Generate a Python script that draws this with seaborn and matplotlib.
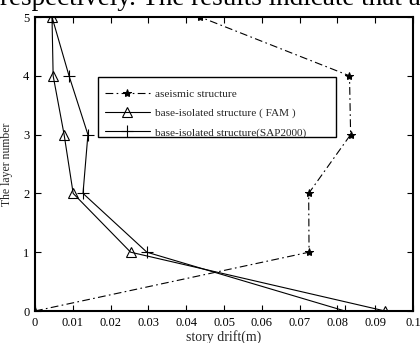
import matplotlib
matplotlib.use("Agg")
import matplotlib.pyplot as plt
from matplotlib.patches import Rectangle
import seaborn as sns
import pandas as pd

layers = [0, 1, 2, 3, 4, 5]
aseismic = [0.0, 0.0725, 0.0724, 0.0835, 0.0832, 0.0437]
fam = [0.0926, 0.0253, 0.0101, 0.0077, 0.0048, 0.0045]
sap = [0.0820, 0.0296, 0.0127, 0.0140, 0.0090, 0.0045]
labels = ["aseismic structure", "base-isolated structure ( FAM )",
          "base-isolated structure(SAP2000)"]
xticks = [0, 0.01, 0.02, 0.03, 0.04, 0.05, 0.06, 0.07, 0.08, 0.09, 0.1]
xticklabels = ["0", "0.01", "0.02", "0.03", "0.04", "0.05", "0.06", "0.07", "0.08", "0.09", "0.1"]

sns.set_style("ticks")
plt.rcParams["font.family"] = ["Liberation Serif", "DejaVu Serif"]

fig = plt.figure(figsize=(4.2, 3.43), dpi=100)
ax = fig.add_axes([35/420, 1 - 311/343, 378/420, 294/343])

df = pd.DataFrame({"layer": layers, "a": aseismic, "f": fam, "s": sap})
sns.lineplot(data=df, x="a", y="layer", sort=False, ax=ax, color="black",
             linewidth=0.8, marker="*", markersize=6,
             markeredgecolor="black", label=labels[0])
ax.lines[-1].set_linestyle((0, (7, 3, 1.5, 3)))
sns.lineplot(data=df, x="f", y="layer", sort=False, ax=ax, color="black",
             linewidth=0.8, marker="^", markersize=7, markerfacecolor="none",
             markeredgecolor="black", markeredgewidth=0.8, label=labels[1])
sns.lineplot(data=df, x="s", y="layer", sort=False, ax=ax, color="black",
             linewidth=0.8, marker="+", markersize=8, markeredgewidth=0.8,
             markeredgecolor="black", label=labels[2])

ax.set_xlim(0, 0.1)
ax.set_ylim(0, 5)
ax.set_xticks(xticks)
ax.set_xticklabels(xticklabels)
ax.set_yticks(layers)
ax.tick_params(direction="in", top=True, right=True, labelsize=9,
               length=4, width=0.8, pad=4, colors="black")
for sp in ax.spines.values():
    sp.set_linewidth(1.5)
    sp.set_color("black")
ax.set_xlabel("story drift(m)", fontsize=10, labelpad=1)
ax.set_ylabel("The layer number", fontsize=8.5, labelpad=7)

# legend box frame
ax.add_patch(Rectangle((0.1667, 0.592), 0.6296, 0.204, transform=ax.transAxes,
                       fill=True, facecolor="white", edgecolor="black",
                       linewidth=1.0, zorder=4))
leg = ax.legend(loc="upper left", bbox_to_anchor=(0.185, 0.755), borderaxespad=0,
                fontsize=8.1, handlelength=4.0, numpoints=1, frameon=False,
                borderpad=0, labelspacing=0.82, handletextpad=0.45)
leg.set_zorder(5)

fig.text(0.0, 1 - 5/343, "respectively. The results indicate that a",
         fontsize=19.5, va="baseline", ha="left", color="black")

fig.savefig("out.png", dpi=100)
